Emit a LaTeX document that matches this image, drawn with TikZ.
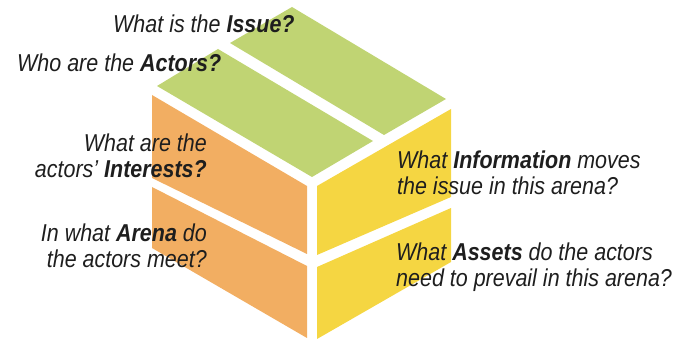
\documentclass[tikz,border=0pt]{standalone}
\usepackage{fontspec}
\setmainfont{Liberation Sans}[FakeStretch=0.88]
\definecolor{cgreen}{RGB}{192,212,115}
\definecolor{corange}{RGB}{242,174,98}
\definecolor{cyellow}{RGB}{245,214,66}
\definecolor{ctext}{RGB}{30,30,30}
\tikzset{
  face/.style={draw=none},
  question/.style={inner sep=0pt, text=ctext, font=\fontsize{24.4}{26.5}\selectfont\itshape},
}
\begin{document}
\begin{tikzpicture}[x=1pt,y=-1pt]
\useasboundingbox (0,0) rectangle (678,339);
% top face (green)
\fill[face,cgreen] (292,7) -- (446,99) -- (384,135) -- (230,43) -- cycle;
\fill[face,cgreen] (218,49) -- (373,141) -- (312,177) -- (157,86) -- cycle;
% left face (orange)
\fill[face,corange] (152,95) -- (307,186) -- (307,254) -- (152,178) -- cycle;
\fill[face,corange] (152,187) -- (307,266) -- (307,338) -- (152,248) -- cycle;
% right face (yellow)
\fill[face,cyellow] (317,186) -- (451,109) -- (451,197) -- (317,255) -- cycle;
\fill[face,cyellow] (317,267) -- (451,208) -- (451,262) -- (317,339) -- cycle;
% questions (base anchor of a two-line node = baseline of its last line)
\node[question, anchor=base west] (issue) at (113,33) {What is the \textbf{Issue?}};
\node[question, anchor=base west] (actors) at (17,72) {Who are the \textbf{Actors?}};
\node[question, anchor=base east, align=right] (interests) at (207,178) {What are the\\actors’ \textbf{Interests?}};
\node[question, anchor=base east, align=right] (arena) at (207,268) {In what \textbf{Arena} do\\the actors meet?};
\node[question, anchor=base west, align=left] (info) at (397,195) {What \textbf{Information} moves\\the issue in this arena?};
\node[question, anchor=base west, align=left] (assets) at (396,287) {What \textbf{Assets} do the actors\\need to prevail in this arena?};
\end{tikzpicture}
\end{document}
